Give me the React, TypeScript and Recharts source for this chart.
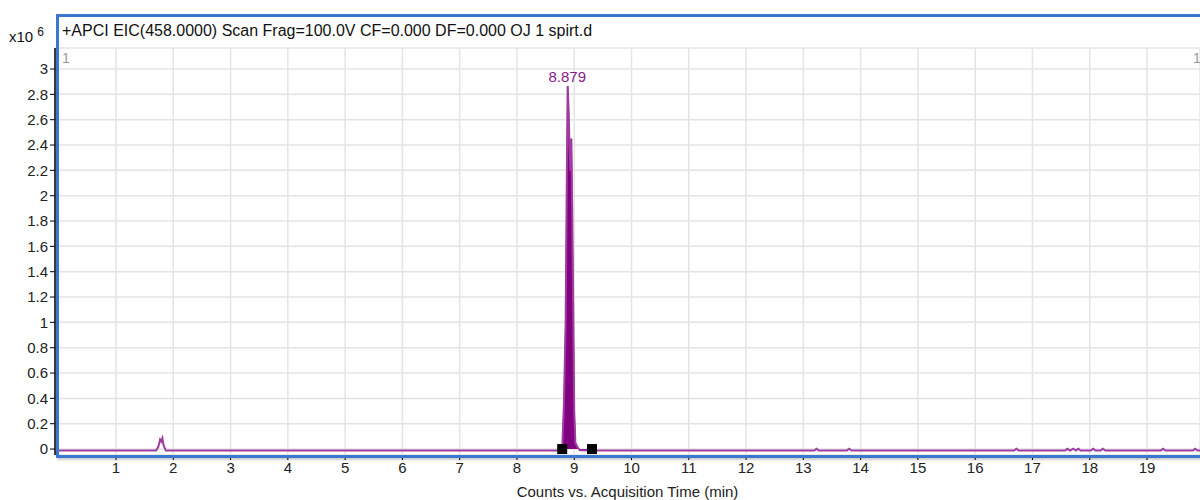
import { ComposedChart, Line, Area, XAxis, YAxis, CartesianGrid, ReferenceDot } from "recharts"

// retention time (min) and counts (x10^6)
const times = [
  0, 1.7, 1.74, 1.77, 1.79, 1.81, 1.83, 1.87,
  8.7, 8.79, 8.82, 8.85, 8.87, 8.885, 8.9, 8.915, 8.93, 8.95, 8.965, 8.98, 9.0, 9.02, 9.05, 9.1, 9.31,
  13.19, 13.23, 13.27, 13.76, 13.8, 13.84, 16.68, 16.72, 16.76,
  17.57, 17.61, 17.66, 17.71, 17.76, 17.8, 17.84,
  18.02, 18.06, 18.1, 18.19, 18.23, 18.27, 19.24, 19.28, 19.32, 19.8, 19.84, 19.88, 19.93,
]
const counts = [
  -0.012, -0.012, 0.02, 0.075, 0.06, 0.085, 0.03, -0.012,
  -0.012, -0.004, 0.35, 1.0, 2.1, 2.865, 2.7, 2.45, 2.2, 2.45, 1.9, 1.2, 0.3, 0.05, 0.02, -0.01, -0.012,
  -0.012, 0.002, -0.012, -0.012, 0.002, -0.012, -0.012, 0.002, -0.012,
  -0.012, 0.002, -0.012, 0.003, -0.012, 0.002, -0.012,
  -0.012, 0.002, -0.012, -0.012, 0.002, -0.012, -0.012, 0.002, -0.012, -0.012, 0.002, -0.012, -0.012,
]
const xTicks = [1, 2, 3, 4, 5, 6, 7, 8, 9, 10, 11, 12, 13, 14, 15, 16, 17, 18, 19]
const yTicks = [0, 0.2, 0.4, 0.6, 0.8, 1, 1.2, 1.4, 1.6, 1.8, 2, 2.2, 2.4, 2.6, 2.8, 3]
const integStart = 8.79
const integEnd = 9.31
const apexTime = 8.879
const apexCount = 2.865

const data = times.map((t, i) => ({
  t,
  signal: counts[i],
  peak: t >= integStart && t <= integEnd ? counts[i] : null,
}))

const font = '"Liberation Sans", Arial, sans-serif'

const square = (props: any) => (
  <rect x={props.cx - 5} y={props.cy - 5} width={10} height={10} fill="#000" />
)

export default function App() {
  return (
    <div style={{ position: "absolute", left: 0, top: 0, width: 1200, height: 500, fontFamily: font, overflow: "hidden" }}>
      <ComposedChart width={1200} height={500} data={data} margin={{ top: 48, right: 0, bottom: 0, left: 0 }}>
        <CartesianGrid stroke="#e4e4e4" strokeWidth={1.5} />
        <XAxis
          dataKey="t"
          type="number"
          domain={[-0.065, 19.925]}
          ticks={xTicks}
          allowDataOverflow
          height={45}
          axisLine={false}
          tickLine={{ stroke: "#000" }}
          tickSize={5}
          tick={{ fill: "#222", fontSize: 15, fontFamily: font }}
          label={{ value: "Counts vs. Acquisition Time (min)", position: "insideBottom", offset: 3, fill: "#222", fontSize: 15, fontFamily: font }}
        />
        <YAxis
          type="number"
          domain={[-0.047, 3.166]}
          ticks={yTicks}
          allowDataOverflow
          width={55}
          axisLine={{ stroke: "#000", strokeWidth: 1.5 }}
          tickLine={{ stroke: "#000" }}
          tickSize={5}
          tick={{ fill: "#222", fontSize: 15, fontFamily: font }}
        />
        <Area
          type="linear"
          dataKey="peak"
          baseValue={0}
          fill="#800080"
          fillOpacity={1}
          stroke="#800080"
          strokeWidth={1}
          isAnimationActive={false}
        />
        <Line
          type="linear"
          dataKey="signal"
          stroke="#a03ca0"
          strokeWidth={2}
          dot={false}
          isAnimationActive={false}
        />
        <ReferenceDot x={integStart} y={0} r={5} shape={square} />
        <ReferenceDot x={integEnd} y={0} r={5} shape={square} />
        <ReferenceDot
          x={apexTime}
          y={apexCount}
          r={0}
          fill="none"
          stroke="none"
          label={{ value: "8.879", position: "top", offset: 4, fill: "#8a1a8a", fontSize: 15, fontFamily: font }}
        />
      </ComposedChart>
      <div
        style={{
          position: "absolute",
          left: 56,
          top: 14,
          width: 1200,
          height: 438,
          border: "3px solid #3a78d0",
          boxShadow: "1px 2px 2px rgba(0,0,0,0.2)",
          pointerEvents: "none",
        }}
      />
      <span style={{ position: "absolute", left: 62, top: 22, fontSize: 16, color: "#111" }}>
        +APCI EIC(458.0000) Scan Frag=100.0V CF=0.000 DF=0.000 OJ 1 spirt.d
      </span>
      <span style={{ position: "absolute", left: 9, top: 25, fontSize: 15, color: "#111" }}>
        x10 <sup style={{ fontSize: 12, verticalAlign: "6px" }}>6</sup>
      </span>
      <span style={{ position: "absolute", left: 62, top: 50, fontSize: 14, color: "#999" }}>1</span>
      <span style={{ position: "absolute", left: 1193, top: 50, fontSize: 14, color: "#999" }}>1</span>
    </div>
  )
}
